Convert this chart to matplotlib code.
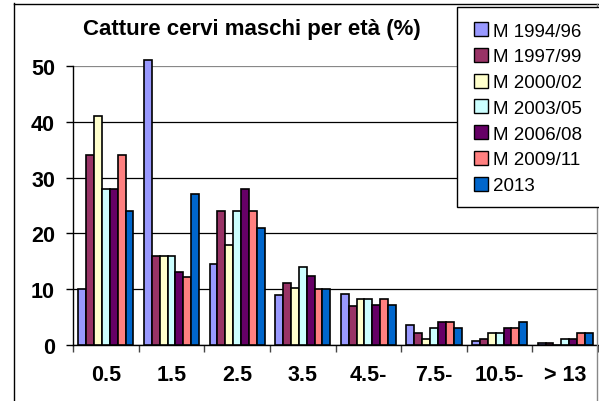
import numpy as np
import matplotlib
matplotlib.use("Agg")
import matplotlib.pyplot as plt
from matplotlib.lines import Line2D
from matplotlib.patches import Rectangle

plt.rcParams['font.family'] = ['Liberation Sans', 'DejaVu Sans']

# classi di età
classi = ["0.5", "1.5", "2.5", "3.5", "4.5-", "7.5-", "10.5-", "> 13"]

# percentuali per periodo
m_1994_96 = [10, 51, 14.5, 9, 9.2, 3.5, 0.8, 0.4]
m_1997_99 = [34, 16, 24, 11.2, 6.9, 2.1, 1.1, 0.4]
m_2000_02 = [41, 16, 18, 10.2, 8.2, 1.1, 2.1, 0]
m_2003_05 = [28, 16, 24, 14, 8.2, 3.1, 2.1, 1.1]
m_2006_08 = [28, 13, 28, 12.3, 7.2, 4.2, 3.1, 1.1]
m_2009_11 = [34, 12.2, 24, 10, 8.2, 4.2, 3.1, 2.1]
a_2013 = [24, 27, 21, 10, 7.2, 3.1, 4.2, 2.1]

serie = [m_1994_96, m_1997_99, m_2000_02, m_2003_05, m_2006_08, m_2009_11, a_2013]
etichette = ["M 1994/96", "M 1997/99", "M 2000/02", "M 2003/05", "M 2006/08", "M 2009/11", "2013"]
colori = ["#9999FF", "#993366", "#FFFFCC", "#CCFFFF", "#660066", "#FF8080", "#0066CC"]

fig = plt.figure(figsize=(5.99, 4.02), dpi=100)
ax = fig.add_axes([73/599, 1-346/402, 525/599, 279/402])

x = np.arange(len(classi))
w = 0.12
for j, (vals, col) in enumerate(zip(serie, colori)):
    ax.bar(x + (j-3)*w, vals, w, color=col, edgecolor="black", linewidth=1.2,
           clip_on=False, zorder=3)

ax.set_xlim(-0.5, len(classi)-0.5)
ax.set_ylim(0, 50)
ax.set_yticks(range(0, 51, 10))
ax.yaxis.grid(True, color="black", linewidth=0.9, zorder=0)
ax.get_ygridlines()[-1].set_color("#888888")
ax.set_xticks(x)
ax.set_xticklabels(classi, fontsize=15.5, fontweight="bold")
ax.set_xticks(np.arange(-0.5, len(classi)), minor=True)
ax.tick_params(axis="x", which="major", length=0, pad=14)
ax.tick_params(axis="x", which="minor", length=5, width=1, color="#444444")
ax.tick_params(axis="y", length=5, width=1, pad=8)
for t in ax.get_yticklabels():
    t.set_fontsize(15.5)
    t.set_fontweight("bold")
for s in ["top", "right"]:
    ax.spines[s].set_visible(False)
ax.spines["left"].set_linewidth(1)
ax.spines["bottom"].set_linewidth(1)

fig.text(252/599, 1-29/402, "Catture cervi maschi per età (%)", fontsize=16,
         fontweight="bold", ha="center", va="center")

# legenda: riquadro disegnato a parte, tagliato dal bordo destro
fig.add_artist(Rectangle((457/599, 1-208/402), 200/599, 200/402, transform=fig.transFigure,
                         facecolor="white", edgecolor="black", linewidth=1, zorder=4))
handles = [Line2D([], [], linestyle="none", marker="s", markersize=10.5,
                  markerfacecolor=c, markeredgecolor="black", markeredgewidth=1)
           for c in colori]
leg = fig.legend(handles, etichette, loc="upper left", bbox_to_anchor=(464/599, 1-15/402),
                 fontsize=13.5, frameon=False, handlelength=0.9, handletextpad=0.2,
                 labelspacing=0.46, borderpad=0.45, borderaxespad=0)
leg.set_zorder(5)

# cornice esterna
fig.add_artist(Line2D([13.5/599, 13.5/599], [0, 1-4/402], color="black", linewidth=1))
fig.add_artist(Line2D([13.5/599, 1], [1-4.5/402, 1-4.5/402], color="black", linewidth=1))
fig.add_artist(Line2D([597/599, 597/599], [0, 1-4.5/402], color="#888888", linewidth=1, zorder=3))

fig.savefig("out.png", dpi=100)
